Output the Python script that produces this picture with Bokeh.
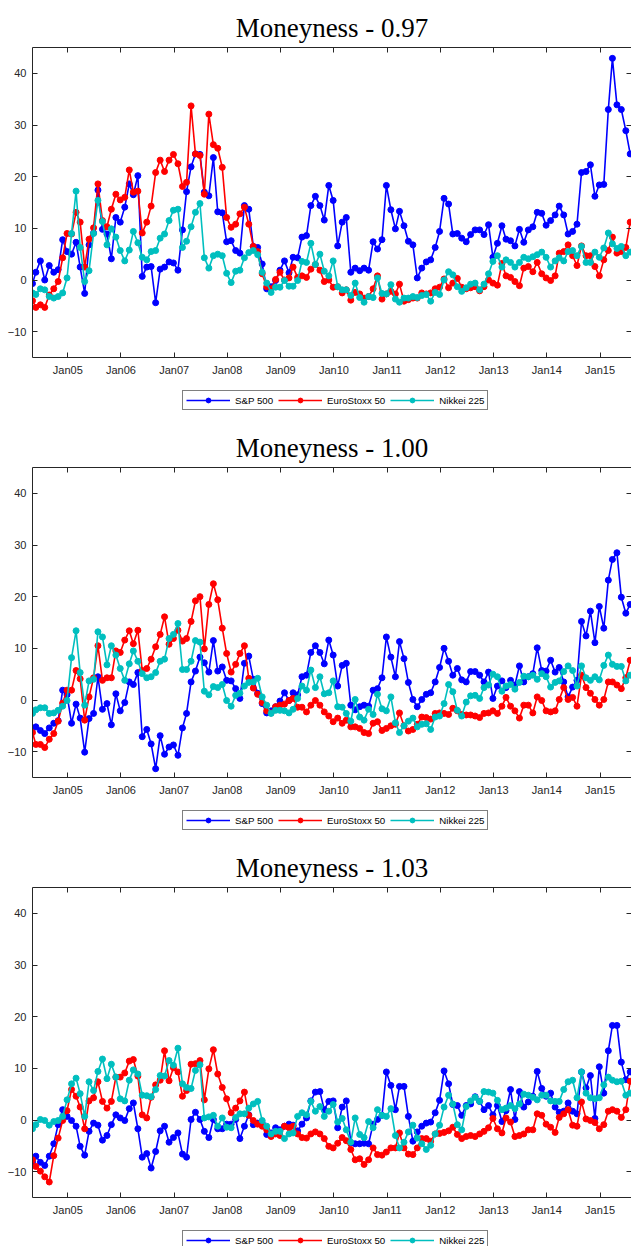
import pandas as pd
from bokeh.plotting import figure
from bokeh.models import (Range1d, FixedTicker, DatetimeTickFormatter, DatetimeAxis,
                          LinearAxis, Legend, LegendItem, ColumnDataSource)
from bokeh.layouts import column
from bokeh.embed import file_html
from bokeh.resources import INLINE

# ---------------- data ----------------
titles = ["Moneyness - 0.97", "Moneyness - 1.00", "Moneyness - 1.03"]
series_names = ["S&P 500", "EuroStoxx 50", "Nikkei 225"]
series_colors = ["#0000FF", "#FF0000", "#00BFBF"]
tick_years = list(range(2005, 2016))
y_ticks = [-10, 0, 10, 20, 30, 40]

first_date = "2004-05-04"
month_dates = list(pd.date_range("2004-05-01", "2015-07-01", freq="MS") + pd.Timedelta(days=26))
dates = [pd.Timestamp(first_date)] + month_dates
x_start, x_end = pd.Timestamp("2004-05-04"), pd.Timestamp("2015-08-05")

sp_097 = [
    -0.7, 1.5, 3.7, 0.0, 2.8, 1.5, 2.0, 7.8, 5.5, 5.0,
    7.3, 2.5, -2.6, 6.8, 9.1, 17.4, 9.8, 8.9, 4.1, 12.1,
    11.2, 14.1, 18.6, 16.5, 20.2, 0.7, 2.5, 2.6, -4.4, 2.1,
    2.5, 3.5, 3.3, 1.9, 9.7, 17.1, 21.9, 24.4, 24.3, 17.0,
    16.3, 23.7, 13.2, 13.0, 7.4, 7.6, 5.7, 5.2, 14.4, 13.7,
    6.5, 6.3, 3.1, -1.7, -1.3, -0.1, 1.9, 3.7, 1.4, 4.4,
    4.3, 8.3, 8.6, 14.4, 16.2, 14.4, 11.6, 18.3, 15.4, 6.6,
    11.2, 12.1, 1.5, 2.3, 1.8, 2.3, 1.9, 7.4, 6.0, 7.8,
    18.3, 13.6, 9.9, 13.3, 10.5, 7.5, 6.8, 0.4, 2.3, 3.5,
    3.9, 6.3, 9.4, 15.8, 14.7, 8.9, 9.0, 8.1, 7.4, 8.8,
    9.7, 9.7, 8.8, 10.7, 4.4, 7.1, 10.5, 7.9, 7.6, 6.6,
    9.8, 7.3, 9.7, 10.3, 13.1, 12.9, 10.6, 11.5, 12.6, 14.3,
    12.6, 8.9, 9.4, 10.8, 20.8, 21.0, 22.3, 16.2, 18.4, 18.5,
    33.0, 42.9, 33.9, 33.0, 28.9, 24.4]
es_097 = [
    -4.0, -5.3, -4.8, -5.3, -2.9, -1.7, -0.3, 4.3, 9.0, 8.9,
    13.1, 11.2, 2.5, 7.9, 10.1, 18.6, 11.5, 10.3, 13.7, 16.6,
    15.5, 16.0, 21.3, 17.0, 17.2, 9.1, 11.2, 14.3, 20.8, 23.2,
    21.0, 23.2, 24.3, 22.5, 18.1, 18.9, 33.7, 24.4, 24.1, 16.6,
    32.1, 26.2, 25.5, 21.8, 12.1, 10.2, 10.8, 12.8, 14.1, 10.8,
    6.5, 5.5, 1.2, -1.3, -1.7, 0.1, 1.5, 0.0, 0.4, 2.5,
    0.5, 0.8, 0.5, 2.1, 3.0, 1.9, -0.3, 0.0, -1.4, -1.3,
    -2.5, -1.9, -3.9, -2.4, -2.7, -3.5, -3.2, -1.7, 0.8, -3.7,
    -2.7, -2.2, -2.7, -0.8, -4.1, -3.8, -3.5, -3.5, -2.5, -2.7,
    -2.5, -1.7, -1.4, 0.2, -1.5, -0.6, 0.3, -1.4, -1.7, -1.5,
    -1.3, -2.1, -1.3, 0.0, -0.6, -1.0, 3.2, 0.8, 0.5, -0.3,
    -1.1, 2.3, 2.6, 1.6, 3.4, 1.2, 0.4, -0.1, 0.8, 5.2,
    5.5, 6.8, 4.7, 2.8, 6.6, 4.7, 4.7, 2.6, 0.8, 3.9,
    5.7, 8.3, 5.2, 5.5, 6.3, 11.2]
nk_097 = [
    -2.5, -2.8, -1.7, -1.9, -3.2, -3.5, -3.2, -2.5, 0.4, 9.0,
    17.2, 6.3, -0.3, 1.8, 9.0, 15.4, 11.3, 6.8, 9.9, 8.3,
    5.7, 3.7, 5.8, 9.4, 7.2, 4.4, 3.9, 5.5, 5.7, 8.1,
    8.9, 11.5, 13.5, 13.7, 6.3, 7.5, 10.3, 13.1, 14.8, 4.3,
    2.3, 4.7, 5.0, 4.7, 1.3, -0.5, 1.7, 1.9, 4.3, 5.3,
    5.7, 4.9, 1.5, -0.6, -2.4, -1.4, -1.4, -0.1, -1.2, -1.2,
    -0.1, 3.6, 3.4, 7.1, 3.0, 5.0, 1.7, 0.8, 3.7, -1.3,
    -1.9, -1.9, -3.0, -0.6, -3.4, -4.3, -3.2, -3.4, 0.4, -2.6,
    -2.7, -0.9, -3.7, -4.3, -3.5, -3.5, -3.2, -3.4, -3.0, -2.8,
    -4.1, -2.4, -2.8, 0.0, 1.6, 1.0, -1.3, -2.2, -1.5, -0.8,
    -0.6, -1.9, -0.8, 1.2, 3.6, 4.7, 2.5, 3.9, 3.4, 2.5,
    3.4, 4.4, 4.1, 4.5, 4.9, 5.4, 4.4, 2.5, 3.7, 4.3,
    3.7, 5.5, 5.7, 4.7, 6.5, 3.4, 3.4, 5.4, 4.4, 6.2,
    9.1, 7.0, 6.1, 6.5, 4.7, 5.4]

sp_100 = [
    -5.5, -5.2, -5.9, -6.5, -5.4, -4.5, -4.0, 1.9, 1.0, -4.5,
    -0.8, -3.5, -10.1, -3.6, -2.6, 4.5, -1.8, -0.7, -4.8, 1.2,
    -2.1, -0.5, 3.5, 3.0, 5.3, -7.1, -5.7, -8.5, -13.3, -6.9,
    -10.5, -9.1, -8.7, -10.7, -5.4, -2.6, 3.5, 5.6, 8.3, 7.2,
    5.4, 11.5, 5.6, 6.4, 3.8, 3.7, 2.2, 0.3, 7.1, 8.5,
    4.0, 1.3, -0.7, -2.5, -2.1, -1.3, -0.2, 1.4, -0.1, 1.4,
    1.0, 4.5, 4.8, 9.2, 10.5, 9.2, 7.0, 11.6, 8.7, 2.7,
    6.7, 7.1, -1.0, -1.9, -1.3, -1.0, -1.2, 1.9, 2.2, 4.3,
    12.2, 8.3, 4.5, 11.3, 8.0, 3.4, 0.1, -1.3, 0.1, 1.1,
    1.4, 3.5, 6.3, 10.0, 7.5, 4.8, 6.1, 3.9, 3.5, 5.5,
    5.5, 4.8, 3.5, 5.4, 0.3, 2.7, 3.7, 2.4, 3.8, 2.9,
    6.6, 3.5, 4.5, 5.1, 10.1, 5.7, 5.6, 7.7, 5.4, 6.3,
    3.5, 0.6, 2.5, 3.8, 15.2, 12.4, 17.2, 11.1, 18.1, 13.9,
    23.2, 27.2, 28.5, 19.9, 16.8, 18.5]
es_100 = [
    -6.3, -8.6, -8.6, -9.2, -7.6, -6.5, -4.1, -0.6, 1.9, 1.9,
    5.7, 4.1, -3.9, 0.6, 4.3, 10.5, 3.8, 4.3, 4.3, 9.5,
    9.2, 11.6, 13.4, 10.9, 13.5, 5.7, 6.1, 7.9, 10.3, 12.7,
    16.1, 10.8, 11.9, 13.5, 11.4, 11.9, 15.2, 19.2, 20.0, 9.9,
    18.5, 22.5, 19.4, 13.9, 9.0, 5.4, 6.9, 9.0, 10.5, 4.2,
    2.3, 1.1, -0.5, -2.1, -2.5, -1.3, -1.0, -0.8, -0.1, 0.3,
    -1.4, -1.4, -2.3, -1.0, -0.1, -1.0, -2.3, -3.1, -4.2, -3.5,
    -4.5, -3.9, -5.2, -5.2, -5.5, -6.3, -6.5, -4.5, -4.2, -5.9,
    -5.5, -5.0, -4.7, -2.5, -5.0, -6.0, -5.7, -4.7, -3.3, -3.4,
    -3.7, -2.6, -2.5, -2.6, -2.8, -1.6, -2.1, -2.8, -2.9, -2.9,
    -3.1, -3.4, -2.6, -2.5, -2.1, -2.6, -1.2, 0.5, -1.2, -2.1,
    -3.5, -1.0, -1.0, -2.5, 0.6, -0.1, -2.1, -2.3, -2.1, 0.1,
    2.4, 0.1, 0.5, -1.2, 4.8, 2.4, 1.3, 0.1, -1.0, 0.1,
    3.5, 3.5, 2.9, 2.2, 4.3, 7.7]
nk_100 = [
    -2.6, -1.9, -1.5, -1.5, -2.6, -2.5, -2.0, -1.2, -0.1, 8.2,
    13.4, 5.3, -1.0, 3.7, 4.0, 13.2, 12.2, 6.8, 10.5, 8.7,
    6.1, 3.8, 7.0, 9.5, 7.5, 5.1, 4.3, 4.5, 5.3, 7.5,
    7.9, 11.9, 12.7, 14.8, 5.9, 5.9, 7.5, 11.5, 11.2, 1.7,
    1.0, 2.6, 2.4, 3.0, -0.1, -1.2, 0.9, 1.3, 2.7, 3.4,
    3.5, 4.2, 0.6, -1.0, -2.6, -2.0, -2.0, -2.1, -2.5, -1.8,
    0.3, 2.7, 1.9, 5.8, 2.4, 4.5, 1.2, 1.4, 3.7, -1.3,
    -1.4, -2.6, -4.1, 0.1, -3.3, -3.9, -1.8, -2.8, 1.1, -1.7,
    -2.1, 0.6, -4.4, -6.3, -5.0, -4.1, -3.5, -5.2, -4.7, -4.6,
    -5.7, -3.3, -3.1, -0.7, 3.0, 1.6, -2.0, -3.1, -0.4, 0.8,
    0.9, 0.3, 2.4, 2.9, 5.0, 4.5, 1.7, 2.7, 3.0, 2.1,
    3.4, 4.6, 4.5, 4.8, 4.0, 5.1, 4.5, 2.5, 3.4, 3.7,
    5.5, 6.6, 5.7, 2.7, 6.6, 4.3, 3.8, 4.5, 3.9, 6.7,
    8.7, 6.9, 6.5, 6.5, 3.7, 4.8]

sp_103 = [
    -8.1, -7.0, -8.2, -8.8, -7.0, -4.6, -0.9, 2.0, 0.7, -0.1,
    -1.2, -5.1, -6.8, -2.2, -0.6, -1.0, -3.9, -3.0, -0.9, 1.0,
    0.4, -0.1, 2.2, 3.3, -1.7, -7.2, -6.5, -9.3, -6.1, -2.1,
    -1.2, -4.3, -3.4, -2.5, -6.6, -7.2, 0.1, 1.5, 0.1, -2.2,
    -3.4, 0.1, -1.7, -1.7, -0.8, -0.8, 0.1, -3.6, -1.2, 1.0,
    -0.9, -0.6, -0.6, -2.8, -2.5, -1.5, -1.9, -1.2, -0.8, -1.0,
    -2.1, -0.8, 0.4, 3.7, 5.4, 5.5, 2.0, 3.6, 3.7, -1.5,
    2.5, 3.7, -4.4, -4.6, -4.6, -4.5, -4.6, -0.8, 0.1, 0.9,
    9.3, 6.7, 2.0, 6.5, 6.5, 0.7, -4.1, -2.3, -1.2, -0.6,
    -0.4, 1.4, 3.8, 9.5, 7.0, 3.0, 2.8, 0.9, 2.8, 3.1,
    4.5, 3.6, 2.0, 2.8, 1.0, 2.8, -0.3, 1.8, 5.9, 0.1,
    5.5, 2.5, 3.5, 4.6, 9.4, 6.1, 4.6, 5.2, 2.5, 1.5,
    1.7, 3.3, 1.7, 1.2, 9.3, 6.2, 8.6, 0.3, 10.3, 5.2,
    13.4, 18.3, 18.3, 11.2, 7.8, 9.3]
es_103 = [
    -7.7, -9.0, -9.9, -11.0, -12.0, -6.9, -3.5, -0.1, 1.8, 5.9,
    4.6, 2.5, -1.7, 3.7, 4.3, 7.4, 3.6, 2.3, 3.6, 8.3,
    8.3, 9.1, 11.4, 11.7, 8.5, 1.0, 0.4, 4.4, 6.8, 7.7,
    13.4, 7.6, 10.1, 9.3, 4.6, 5.7, 10.8, 10.9, 11.5, 3.9,
    9.9, 13.6, 8.9, 6.3, 4.1, 1.4, 2.3, 3.7, 5.4, 0.9,
    -0.1, -0.8, -1.2, -1.9, -3.2, -2.7, -3.0, -1.2, -1.5, -1.2,
    -2.7, -3.4, -3.5, -2.7, -2.3, -2.7, -3.6, -5.1, -5.4, -4.5,
    -3.4, -4.0, -5.7, -7.7, -7.5, -8.6, -7.7, -5.4, -6.7, -6.8,
    -6.2, -5.4, -5.4, -2.5, -5.4, -6.6, -6.7, -5.4, -3.6, -3.6,
    -4.1, -2.7, -2.6, -2.4, -2.1, -1.4, -2.8, -3.6, -3.2, -3.0,
    -3.2, -2.7, -2.2, -1.5, 0.3, -1.7, -2.5, 0.4, -0.4, -3.2,
    -3.0, -2.7, -1.9, -1.9, 1.2, 0.9, -0.8, -1.4, -2.4, 0.5,
    1.2, 2.0, -1.0, -1.2, 3.5, 0.2, -0.1, -0.5, -1.7, -0.9,
    1.7, 2.0, 1.7, 0.5, 2.0, 7.5]
nk_103 = [
    -1.7, -0.9, 0.1, -0.1, -1.0, -0.3, -0.1, 0.7, 3.9, 7.0,
    8.1, 5.1, 0.7, 7.4, 5.7, 9.4, 11.8, 8.0, 10.8, 8.3,
    4.1, 3.7, 7.7, 9.7, 8.9, 4.8, 4.7, 4.5, 5.9, 8.6,
    8.5, 11.5, 10.6, 13.9, 7.0, 6.3, 6.1, 9.6, 10.7, 0.4,
    0.6, 0.9, -1.2, 0.4, -1.4, -1.5, 0.5, 1.2, 1.2, 2.3,
    3.1, 3.6, -0.1, -1.2, -2.7, -2.2, -2.2, -3.6, -2.7, -2.5,
    0.7, 1.4, 1.0, 3.6, 1.7, 2.6, 0.7, 1.7, 3.0, -0.4,
    0.3, -1.9, -4.3, 0.4, -2.8, -3.4, -0.3, -1.5, 2.0, 0.9,
    0.7, 2.2, -3.0, -5.4, -4.3, -2.3, -1.0, -3.5, -4.6, -5.7,
    -4.9, -2.7, -1.0, 2.5, 4.8, 3.1, -0.9, -1.9, 2.6, 3.7,
    4.4, 3.6, 5.5, 5.4, 5.2, 3.8, 2.0, 2.3, 2.8, 2.2,
    3.1, 5.0, 4.8, 4.4, 3.9, 4.8, 4.8, 3.7, 3.6, 3.6,
    5.9, 7.4, 7.7, 4.3, 9.3, 5.2, 4.3, 4.1, 4.3, 6.8,
    8.3, 7.7, 7.4, 7.5, 4.8, 5.2]

panels = [
    (titles[0], [sp_097, es_097, nk_097]),
    (titles[1], [sp_100, es_100, nk_100]),
    (titles[2], [sp_103, es_103, nk_103]),
]

AX = "#262626"
jan_ticks = [pd.Timestamp(f"{y}-01-01").value / 1e6 for y in tick_years]
fmt = "%b%y"


def style_axis(ax, labels=True):
    ax.axis_line_color = AX
    ax.axis_line_width = 1
    ax.major_tick_line_color = AX
    ax.major_tick_in = 5
    ax.major_tick_out = 0
    ax.minor_tick_line_color = None
    ax.major_label_text_font = "Liberation Sans"
    ax.major_label_text_color = AX
    ax.major_label_text_font_size = "11px" if labels else "0px"
    ax.major_label_standoff = 6 if labels else 0


def make_panel(title, sources):
    p = figure(width=631, height=382, x_axis_type="datetime",
               x_range=Range1d(x_start, x_end), y_range=Range1d(-15, 45),
               output_backend="svg", toolbar_location=None,
               min_border_left=32, min_border_right=0, min_border_top=47,
               min_border_bottom=25,
               background_fill_color="white", border_fill_color="white")
    p.title.text = title
    p.title.align = "center"
    p.title.text_font = "Liberation Serif"
    p.title.text_font_size = "27px"
    p.title.text_font_style = "normal"
    p.title.text_color = "black"
    p.grid.visible = False
    p.outline_line_color = None

    xa = p.xaxis[0]
    xa.ticker = FixedTicker(ticks=jan_ticks)
    xa.formatter = DatetimeTickFormatter(years=fmt, months=fmt, days=fmt)
    style_axis(xa)
    ya = p.yaxis[0]
    ya.ticker = FixedTicker(ticks=y_ticks)
    style_axis(ya)

    top = DatetimeAxis(ticker=FixedTicker(ticks=jan_ticks))
    style_axis(top, labels=False)
    p.add_layout(top, "above")
    right = LinearAxis(ticker=FixedTicker(ticks=y_ticks))
    style_axis(right, labels=False)
    right.axis_line_color = None
    p.add_layout(right, "right")

    for color, src in zip(series_colors, sources):
        p.line("x", "y", source=src, line_color=color, line_width=1.6)
        p.scatter("x", "y", source=src, marker="circle", size=6,
                  fill_color=color, line_color=color)
    return p


def make_legend(height, sources):
    # a strip below each panel holding its legend; its renderers reuse the
    # panel's data but the strip's ranges keep them out of view
    lf = figure(width=631, height=height, output_backend="svg", toolbar_location=None,
                x_range=Range1d(0, 1), y_range=Range1d(0, 1),
                x_axis_location=None, y_axis_location=None,
                min_border=0, min_border_left=0, min_border_right=0,
                min_border_top=0, min_border_bottom=0,
                background_fill_color="white", border_fill_color="white")
    lf.outline_line_color = None
    lf.grid.visible = False
    items = []
    for name, color, src in zip(series_names, series_colors, sources):
        ln = lf.line("x", "y", source=src, line_color=color, line_width=1.6)
        sc = lf.scatter("x", "y", source=src, marker="circle", size=6,
                        fill_color=color, line_color=color)
        items.append(LegendItem(label=name, renderers=[ln, sc]))
    leg = Legend(items=items, orientation="horizontal", location=(150, height - 28),
                 label_text_font="Liberation Sans", label_text_font_size="9.7px",
                 label_text_color="black", glyph_width=44, glyph_height=12,
                 label_height=12, label_standoff=5, spacing=5, padding=3,
                 margin=0, border_line_color="black", border_line_width=1,
                 background_fill_color="white", background_fill_alpha=1.0)
    lf.add_layout(leg, "center")
    return lf


children = []
for i, (title, values) in enumerate(panels):
    sources = [ColumnDataSource(dict(x=dates, y=v)) for v in values]
    children.append(make_panel(title, sources))
    children.append(make_legend(38 if i < 2 else 24, sources))
layout = column(*children, spacing=0)

open("out.html", "w").write(file_html(layout, INLINE))
